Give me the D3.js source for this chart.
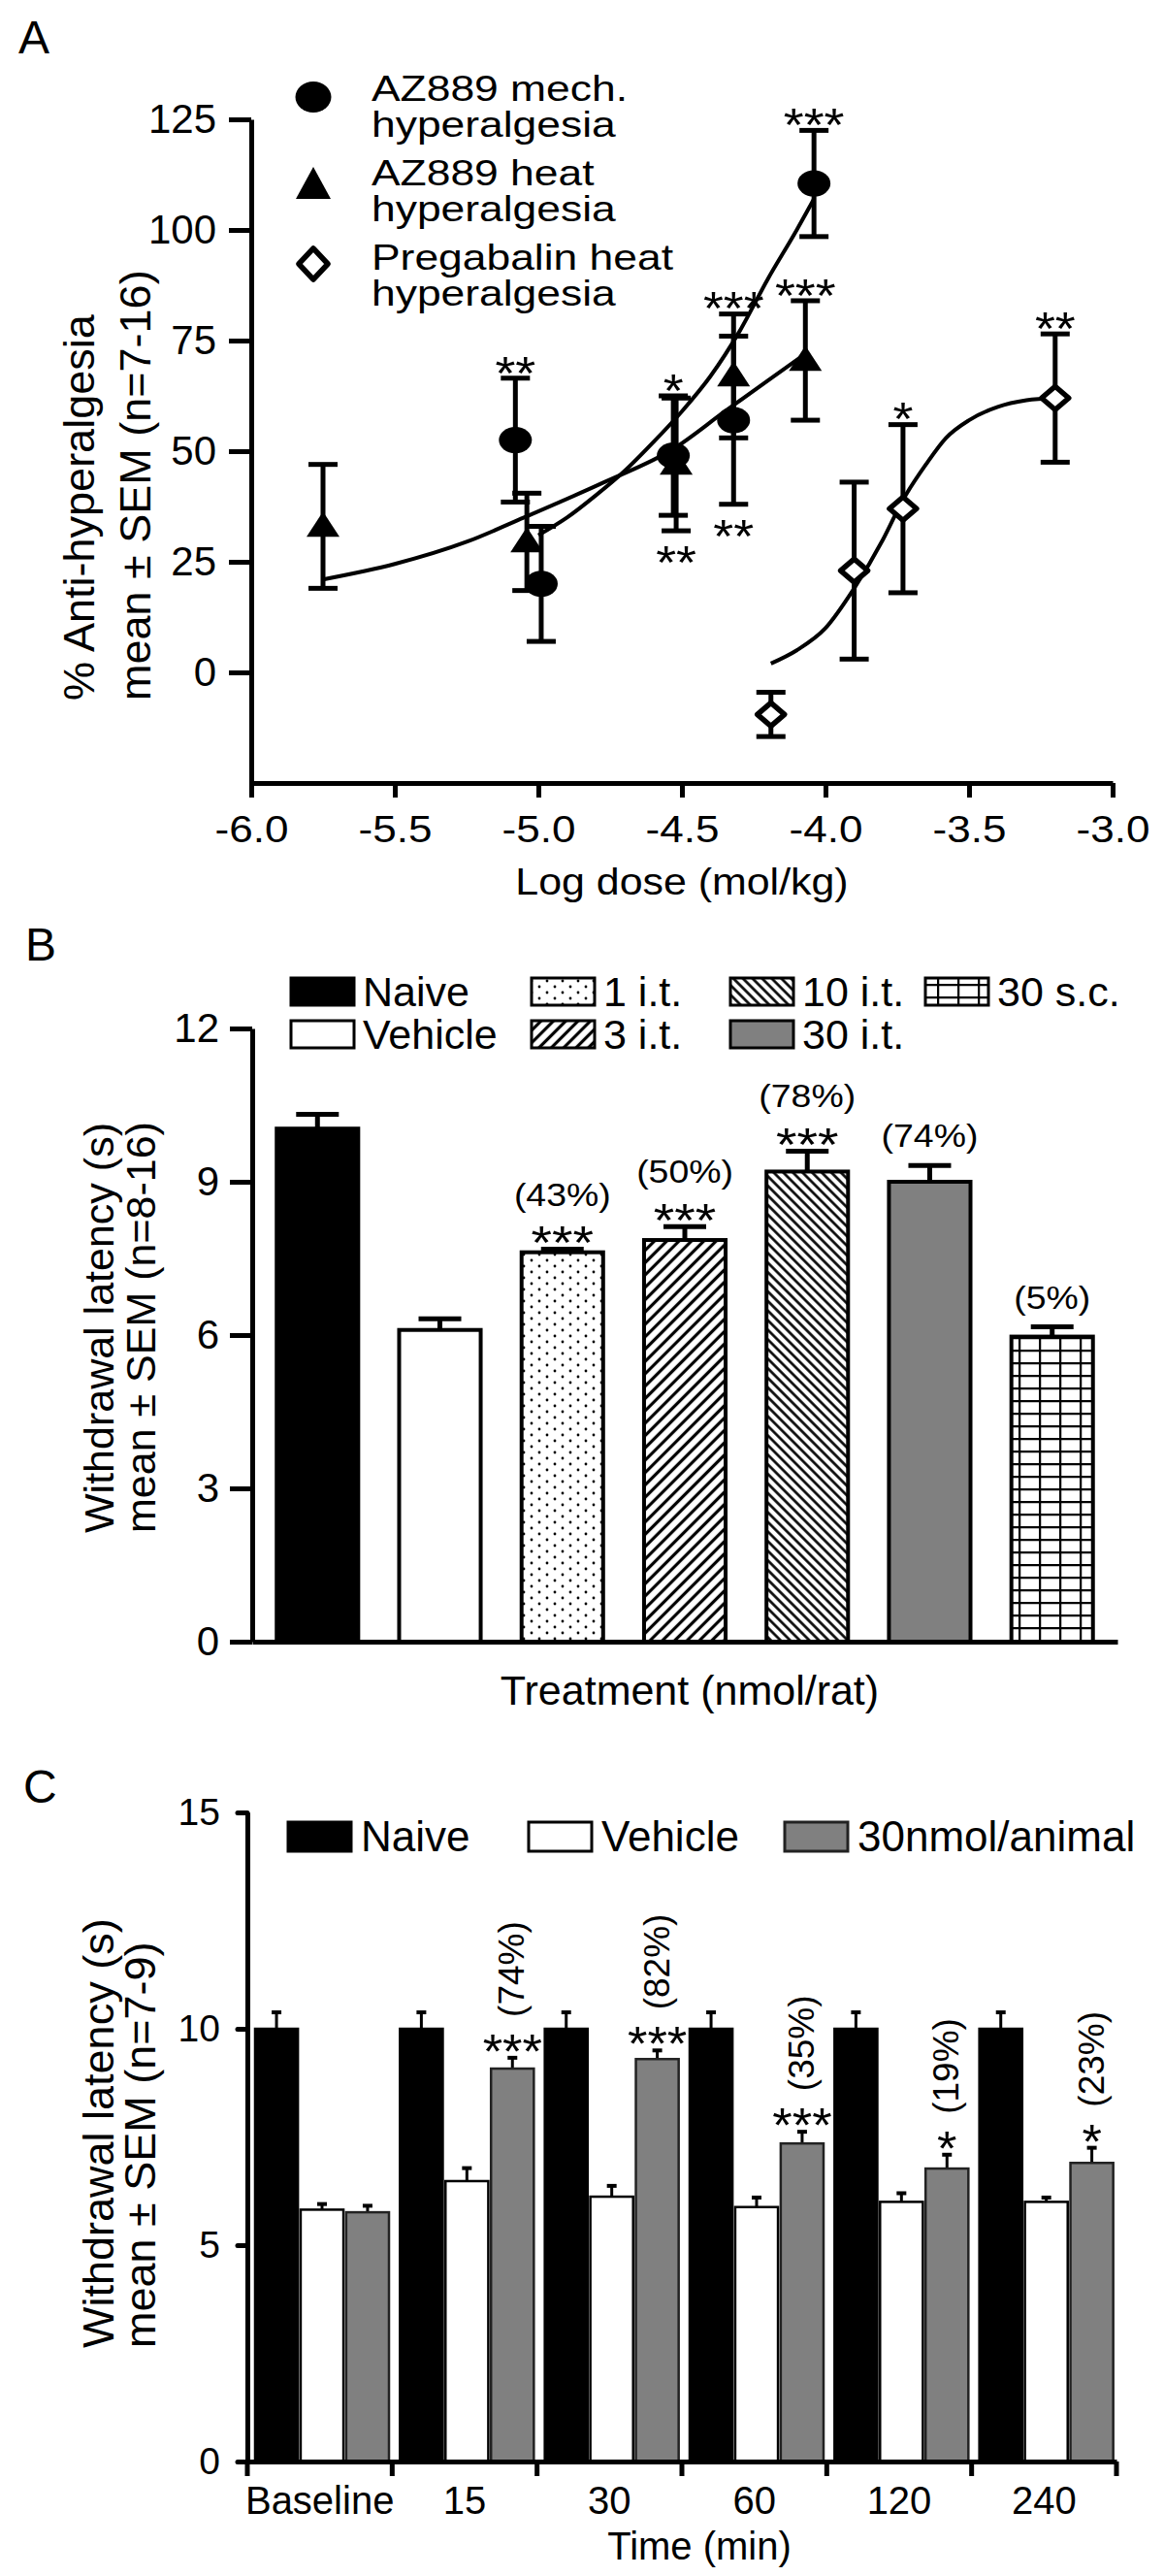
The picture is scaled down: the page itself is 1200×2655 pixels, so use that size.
<!DOCTYPE html>
<html>
<head>
<meta charset="utf-8">
<script src="https://cdn.jsdelivr.net/npm/d3@7"></script>
<style>
  body { margin: 0; background: #fff; }
  svg text { font-family: "Liberation Sans", Arial, Helvetica, sans-serif; fill: #000; }
</style>
</head>
<body>
<svg id="fig" width="1200" height="2655"></svg>
<script>
// ---------- panel A : dose response ----------
const mechDose = [-5.08, -4.99, -4.53, -4.32, -4.04];
const mechMean = [52.5, 20, 49, 57, 110.5];
const mechSem = [14, 13, 13.5, 19, 12];

const heatDose = [-5.75, -5.04, -4.52, -4.32, -4.07];
const heatMean = [33, 29.5, 47, 67, 70.5];
const heatSem = [14, 11, 15, 14, 13.5];

const pregDose = [-4.19, -3.90, -3.73, -3.20];
const pregMean = [-9.5, 23, 37, 62];
const pregSem = [5, 20, 19, 14.5];

// fitted curves
const mechFitDose = [-5.0, -4.9, -4.8, -4.7, -4.6, -4.5, -4.4, -4.3, -4.2, -4.1, -4.04];
const mechFitVal = [31, 35, 40, 45.5, 52, 59, 67, 77, 89, 100, 107];
const heatFitDose = [-5.75, -5.5, -5.25, -5.05, -4.77, -4.53, -4.35, -4.2, -4.07];
const heatFitVal = [21, 24.5, 29.5, 35, 43, 50.5, 59, 66, 72];
const pregFitDose = [-4.19, -4.1, -4.0, -3.9, -3.8, -3.73, -3.65, -3.58, -3.5, -3.4, -3.3, -3.2];
const pregFitVal = [2, 5, 10, 19, 30, 39, 47, 53, 57, 60, 61.5, 62];

const xTicksA = [-6.0, -5.5, -5.0, -4.5, -4.0, -3.5, -3.0];
const yTicksA = [0, 25, 50, 75, 100, 125];

// significance marks: series, point index, text, side
const starsA = [
  ["mech", 0, "**", "up"], ["mech", 2, "*", "up"], ["heat", 2, "**", "down"],
  ["mech", 3, "**", "down"], ["heat", 3, "***", "up"], ["mech", 4, "***", "up"],
  ["heat", 4, "***", "up"], ["preg", 2, "*", "up"], ["preg", 3, "**", "up"]
];
const legendA = [
  ["AZ889 mech.", "hyperalgesia"],
  ["AZ889 heat", "hyperalgesia"],
  ["Pregabalin heat", "hyperalgesia"]
];

// ---------- panel B : treatments ----------
const treatLabels = ["Naive", "Vehicle", "1 i.t.", "3 i.t.", "10 i.t.", "30 i.t.", "30 s.c."];
const treatMean = [10.04, 6.1, 7.62, 7.86, 9.2, 9.0, 5.97];
const treatSem = [0.28, 0.22, 0.06, 0.26, 0.4, 0.32, 0.19];
const treatPct = ["", "", "(43%)", "(50%)", "(78%)", "(74%)", "(5%)"];
const treatStars = ["", "", "***", "***", "***", "", ""];
const yTicksB = [0, 3, 6, 9, 12];

// ---------- panel C : time course ----------
const timeLabels = ["Baseline", "15", "30", "60", "120", "240"];
const groupC = ["Naive", "Vehicle", "30nmol/animal"];
const naiveMean = [10, 10, 10, 10, 10, 10];
const naiveSem = [0.38, 0.38, 0.38, 0.38, 0.38, 0.38];
const vehicleMean = [5.82, 6.48, 6.12, 5.88, 6.0, 6.0];
const vehicleSem = [0.13, 0.3, 0.25, 0.22, 0.2, 0.1];
const drugMean = [5.76, 9.08, 9.3, 7.35, 6.77, 6.9];
const drugSem = [0.15, 0.25, 0.2, 0.27, 0.32, 0.35];
const drugPct = ["", "(74%)", "(82%)", "(35%)", "(19%)", "(23%)"];
const drugStars = ["", "***", "***", "***", "*", "*"];
const yTicksC = [0, 5, 10, 15];

const FONT = '"Liberation Sans", Arial, Helvetica, sans-serif';
const GREY = "#808080";
const svg = d3.select("#fig");

// text helper, optional rotation and horizontal stretch
function label(g, x, y, txt, size, o = {}) {
  let tr = `translate(${x},${y})`;
  if (o.rotate) tr += ` rotate(${o.rotate})`;
  if (o.sx) tr += ` scale(${o.sx},1)`;
  return g.append("text")
    .attr("transform", tr)
    .attr("font-size", size)
    .attr("text-anchor", o.anchor || "start")
    .text(txt);
}

function styleAxis(sel, size, width) {
  sel.attr("font-family", FONT).attr("font-size", size);
  sel.select(".domain").attr("stroke", "#000").attr("stroke-width", width);
  sel.selectAll(".tick line").attr("stroke", "#000").attr("stroke-width", width);
  sel.selectAll(".tick text").attr("fill", "#000");
}

// asterisks: centre of glyph placed at yc
function stars(g, x, yc, txt, size, sx) {
  return label(g, x, yc + 0.58 * size, txt, size, { anchor: "middle", sx: sx });
}

// ================= PANEL A =================
const gA = svg.append("g");
label(gA, 19, 55, "A", 48);

const xA = d3.scaleLinear().domain([-6, -3]).range([259, 1147]);
const yA = d3.scaleLinear().domain([-25, 125]).range([807, 123]);

gA.append("g").attr("transform", `translate(0,${yA(-25)})`)
  .call(d3.axisBottom(xA).tickValues(xTicksA).tickFormat(d => d.toFixed(1))
    .tickSize(15).tickSizeOuter(0).tickPadding(18))
  .call(styleAxis, 39, 5)
  .call(s => s.selectAll(".tick text").attr("transform", "scale(1.13,1)"));

gA.append("g").attr("transform", `translate(${xA(-6)},0)`)
  .call(d3.axisLeft(yA).tickValues(yTicksA).tickSize(23).tickSizeOuter(0).tickPadding(13))
  .call(styleAxis, 42, 5);

label(gA, xA(-4.5), 922, "Log dose (mol/kg)", 39, { anchor: "middle", sx: 1.1 });
label(gA, 97, 722, "% Anti-hyperalgesia", 45, { rotate: -90 });
label(gA, 155, 722, "mean \u00b1 SEM (n=7-16)", 45, { rotate: -90 });

const seriesA = {
  mech: d3.zip(mechDose, mechMean, mechSem),
  heat: d3.zip(heatDose, heatMean, heatSem),
  preg: d3.zip(pregDose, pregMean, pregSem)
};

// fitted curves
const curveA = d3.line().x(d => xA(d[0])).y(d => yA(d[1])).curve(d3.curveMonotoneX);
[[mechFitDose, mechFitVal], [heatFitDose, heatFitVal], [pregFitDose, pregFitVal]].forEach(([dx, dy]) => {
  gA.append("path").attr("d", curveA(d3.zip(dx, dy)))
    .attr("fill", "none").attr("stroke", "#000").attr("stroke-width", 4);
});

// error bars
const errA = gA.append("g").attr("stroke", "#000").attr("stroke-width", 5);
Object.values(seriesA).forEach(pts => {
  pts.forEach(([d, m, s]) => {
    const x = xA(d);
    errA.append("line").attr("x1", x).attr("x2", x).attr("y1", yA(m - s)).attr("y2", yA(m + s));
    [m - s, m + s].forEach(v => {
      errA.append("line").attr("x1", x - 15).attr("x2", x + 15).attr("y1", yA(v)).attr("y2", yA(v));
    });
  });
});

// marker shapes
const triPath = d3.symbol(d3.symbolTriangle, 3 * Math.sqrt(3))();   // height 3, width 3.46
const diaPath = d3.symbol(d3.symbolSquare, 2)();                     // rotated below
function drawMarker(g, kind, x, y, big) {
  if (kind === "mech") {
    g.append("ellipse").attr("cx", x).attr("cy", y)
      .attr("rx", big ? 18.5 : 17).attr("ry", big ? 16 : 13.5).attr("fill", "#000");
  } else if (kind === "heat") {
    const w = big ? 36 : 34, h = big ? 33 : 26;
    g.append("path").attr("d", triPath)
      .attr("transform", `translate(${x},${y + (big ? 3 : 2)}) scale(${w / 3.464},${h / 3})`)
      .attr("fill", "#000");
  } else {
    const w = big ? 30 : 28, h = big ? 32 : 24;
    g.append("path").attr("d", diaPath)
      .attr("transform", `translate(${x},${y}) scale(${w / 2},${h / 2}) rotate(45)`)
      .attr("fill", "#fff").attr("stroke", "#000")
      .attr("stroke-width", 5.5).attr("vector-effect", "non-scaling-stroke")
      .attr("stroke-linejoin", "round");
  }
}
const markA = gA.append("g");
Object.entries(seriesA).forEach(([k, pts]) => {
  pts.forEach(([d, m]) => drawMarker(markA, k, xA(d), yA(m), false));
});

// significance
starsA.forEach(([k, i, txt, side]) => {
  const [d, m, s] = seriesA[k][i];
  const yc = side === "up" ? yA(m + s) - 17 : yA(m - s) + 21;
  stars(gA, xA(d), yc, txt, 48, 1.12);
});

// legend: two-line entries
const legMarkY = [100, 191, 272];
const legTextY = [104, 191, 278];
legendA.forEach((lines, i) => {
  drawMarker(gA, ["mech", "heat", "preg"][i], 323, legMarkY[i], true);
  lines.forEach((ln, j) => label(gA, 383, legTextY[i] + j * 37, ln, 37, { sx: 1.2 }));
});

// ================= PANEL B =================
const gB = svg.append("g");
label(gB, 26, 990, "B", 48);

const defs = svg.append("defs");
const pDots = defs.append("pattern").attr("id", "pDots").attr("patternUnits", "userSpaceOnUse")
  .attr("width", 16).attr("height", 12);
pDots.append("rect").attr("width", 16).attr("height", 12).attr("fill", "#fff");
pDots.append("circle").attr("cx", 4).attr("cy", 3).attr("r", 1.4).attr("fill", "#000");
pDots.append("circle").attr("cx", 12).attr("cy", 9).attr("r", 1.4).attr("fill", "#000");

function hatch(id, angle, gap, w) {
  const p = defs.append("pattern").attr("id", id).attr("patternUnits", "userSpaceOnUse")
    .attr("width", gap).attr("height", gap).attr("patternTransform", `rotate(${angle})`);
  p.append("rect").attr("width", gap).attr("height", gap).attr("fill", "#fff");
  p.append("line").attr("x1", gap / 2).attr("x2", gap / 2).attr("y1", -1).attr("y2", gap + 1)
    .attr("stroke", "#000").attr("stroke-width", w);
}
hatch("pFwd", 45, 9, 3.2);
hatch("pBack", -45, 7, 2.6);

const pGrid = defs.append("pattern").attr("id", "pGrid").attr("patternUnits", "userSpaceOnUse")
  .attr("width", 21).attr("height", 13);
pGrid.append("rect").attr("width", 21).attr("height", 13).attr("fill", "#fff");
pGrid.append("path").attr("d", "M0,0H21M0,0V13").attr("stroke", "#000").attr("stroke-width", 4.5);

const fillB = ["#000", "#fff", "url(#pDots)", "url(#pFwd)", "url(#pBack)", GREY, "url(#pGrid)"];

const xB = d3.scaleBand().domain(treatLabels).range([260, 1152]).paddingInner(0.334).paddingOuter(0.2);
const yB = d3.scaleLinear().domain([0, 12]).range([1692, 1060]);

const barsB = gB.append("g");
treatLabels.forEach((t, i) => {
  const x0 = xB(t), bw = xB.bandwidth(), cx = x0 + bw / 2;
  const top = yB(treatMean[i]), capY = yB(treatMean[i] + treatSem[i]);
  barsB.append("line").attr("x1", cx).attr("x2", cx).attr("y1", top).attr("y2", capY)
    .attr("stroke", "#000").attr("stroke-width", 5);
  barsB.append("line").attr("x1", cx - 22).attr("x2", cx + 22).attr("y1", capY).attr("y2", capY)
    .attr("stroke", "#000").attr("stroke-width", 5);
  barsB.append("rect").attr("x", x0).attr("y", top).attr("width", bw).attr("height", yB(0) - top)
    .attr("fill", fillB[i]).attr("stroke", "#000").attr("stroke-width", 4);
  if (treatStars[i]) {
    stars(gB, cx, capY - 18, treatStars[i], 48, 1.15);
    label(gB, cx, capY - 54 + 9, treatPct[i], 34, { anchor: "middle", sx: 1.1 });
  } else if (treatPct[i]) {
    label(gB, cx, capY - 28 + 9, treatPct[i], 34, { anchor: "middle", sx: 1.1 });
  }
});

gB.append("g").attr("transform", `translate(0,${yB(0)})`)
  .call(d3.axisBottom(xB).tickSize(0).tickSizeOuter(0).tickFormat(""))
  .call(styleAxis, 40, 5);
gB.append("g").attr("transform", `translate(260,0)`)
  .call(d3.axisLeft(yB).tickValues(yTicksB).tickSize(23).tickSizeOuter(0).tickPadding(11))
  .call(styleAxis, 42, 5);

label(gB, 711, 1757, "Treatment (nmol/rat)", 43, { anchor: "middle" });
label(gB, 117, 1580, "Withdrawal latency (s)", 43, { rotate: -90 });
label(gB, 160, 1580, "mean \u00b1 SEM (n=8-16)", 43, { rotate: -90 });

// legend B
const legColX = [300, 548, 753, 954], legRowY = [1008, 1052];
treatLabels.forEach((t, i) => {
  const x = legColX[Math.floor(i / 2)], y = legRowY[i % 2];
  gB.append("rect").attr("x", x).attr("y", y).attr("width", 65).attr("height", 28)
    .attr("fill", fillB[i]).attr("stroke", "#000").attr("stroke-width", 3);
  label(gB, x + 74, y + 29, t, 43);
});

// ================= PANEL C =================
const gC = svg.append("g");
label(gC, 24, 1858, "C", 48);

const xC = d3.scaleBand().domain(timeLabels).range([255, 1151]);
const xCin = d3.scaleBand().domain(groupC).range([8, 146]).paddingInner(0.06);
const yC = d3.scaleLinear().domain([0, 15]).range([2537, 1868]);

const fillC = ["#000", "#fff", GREY];
const strokeC = ["#000", "#000", "#222"];
const meansC = [naiveMean, vehicleMean, drugMean];
const semsC = [naiveSem, vehicleSem, drugSem];

const barsC = gC.append("g");
timeLabels.forEach((t, j) => {
  groupC.forEach((gname, k) => {
    const x0 = xC(t) + xCin(gname), bw = xCin.bandwidth(), cx = x0 + bw / 2;
    const m = meansC[k][j], s = semsC[k][j];
    const top = yC(m), capY = yC(m + s);
    barsC.append("line").attr("x1", cx).attr("x2", cx).attr("y1", top).attr("y2", capY)
      .attr("stroke", "#000").attr("stroke-width", 3);
    barsC.append("line").attr("x1", cx - 5).attr("x2", cx + 5).attr("y1", capY).attr("y2", capY)
      .attr("stroke", "#000").attr("stroke-width", 4);
    barsC.append("rect").attr("x", x0).attr("y", top).attr("width", bw).attr("height", yC(0) - top)
      .attr("fill", fillC[k]).attr("stroke", strokeC[k]).attr("stroke-width", 2.5);
    if (k === 2 && drugStars[j]) {
      stars(gC, cx, capY - 18, drugStars[j], 50, 1.05);
      label(gC, cx + 12, capY - 42, drugPct[j], 37, { rotate: -90 });
    }
  });
});

gC.append("g").attr("transform", `translate(0,${yC(0)})`)
  .call(d3.axisBottom(xC).tickSize(0).tickSizeOuter(0).tickPadding(26))
  .call(styleAxis, 40, 5);
// group boundary ticks
const bounds = timeLabels.map(t => xC(t)).concat([xC.range()[1]]);
gC.append("g").selectAll("line").data(bounds).join("line")
  .attr("x1", d => d).attr("x2", d => d).attr("y1", yC(0)).attr("y2", yC(0) + 15)
  .attr("stroke", "#000").attr("stroke-width", 5);

gC.append("g").attr("transform", `translate(255,0)`)
  .call(d3.axisLeft(yC).tickValues(yTicksC).tickSize(10).tickSizeOuter(0).tickPadding(18))
  .call(styleAxis, 39, 5)
  .call(s => s.selectAll(".tick line").attr("stroke-linecap", "round"));

label(gC, 721, 2638, "Time (min)", 40, { anchor: "middle" });
label(gC, 117, 2420, "Withdrawal latency (s)", 45, { rotate: -90 });
label(gC, 160, 2420, "mean \u00b1 SEM (n=7-9)", 45, { rotate: -90 });

// legend C
const legCX = [297, 545, 809];
groupC.forEach((gname, k) => {
  gC.append("rect").attr("x", legCX[k]).attr("y", 1878).attr("width", 65).attr("height", 30)
    .attr("fill", fillC[k]).attr("stroke", strokeC[k]).attr("stroke-width", 3);
  label(gC, legCX[k] + 75, 1908, gname, 44);
});
</script>
</body>
</html>
